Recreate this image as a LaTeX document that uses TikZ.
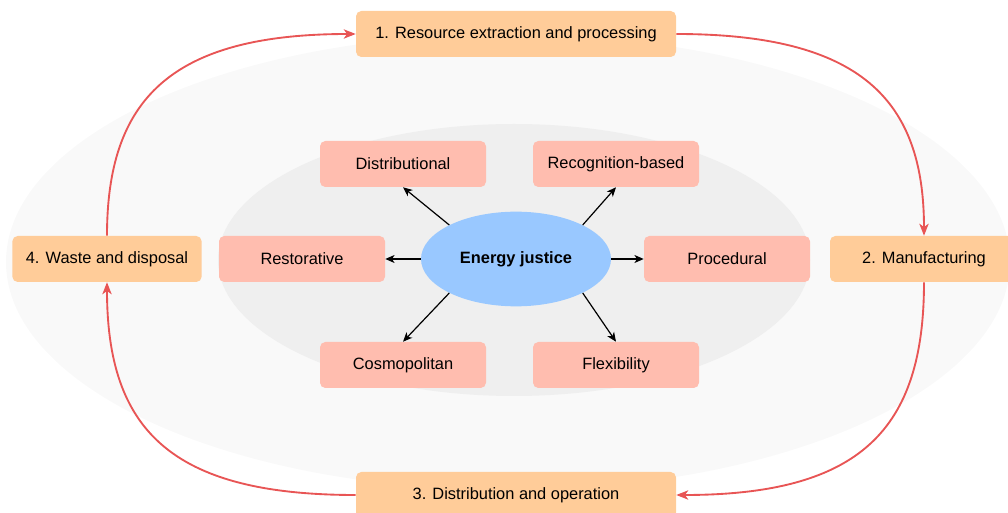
\documentclass[tikz,border=0pt]{standalone}
\usepackage{fontspec}
\setmainfont{Liberation Sans}
\usetikzlibrary{arrows.meta}
\usetikzlibrary{shapes}

\definecolor{outerbg}{HTML}{F9F9F9}
\definecolor{innerbg}{HTML}{EFEFEF}
\definecolor{stagefill}{HTML}{FFCC99}
\definecolor{kindfill}{HTML}{FFBDAF}
\definecolor{corefill}{HTML}{99C8FF}
\definecolor{cyclered}{HTML}{E85555}

\begin{document}
\begin{tikzpicture}[x=0.75pt,y=-0.75pt,
  font=\fontsize{12.3}{14}\selectfont,
  stage/.style={fill=stagefill,rounded corners=4pt,minimum width=240pt,minimum height=34.5pt,inner sep=0pt},
  kind/.style={fill=kindfill,rounded corners=4pt,minimum width=124.5pt,minimum height=34.5pt,inner sep=0pt},
  cyc/.style={draw=cyclered,line width=1.4pt,-{Stealth[length=9pt,width=7pt,inset=2.5pt]}},
  ray/.style={draw=black,line width=0.9pt,-{Stealth[length=7pt,width=6pt,inset=2pt]}}]
\useasboundingbox (0,0) rectangle (1008,513);

% background rings
\fill[outerbg] (508,262) ellipse [x radius=502, y radius=228];
\fill[innerbg] (514,260) ellipse [x radius=296, y radius=136];

% life cycle stages
\node[stage] (res) at (516,34) {1. Resource extraction and processing};
\node[stage,minimum width=141pt] (manu) at (924,259) {2. Manufacturing};
\node[stage] (distr) at (516,495) {3. Distribution and operation};
\node[stage,minimum width=142pt] (waste) at (107,259) {4. Waste and disposal};

% justice dimensions
\node[ellipse,fill=corefill,minimum width=142.5pt,minimum height=71pt,inner sep=0pt] (ej) at (516,259) {\bfseries Energy justice};
\foreach \n/\x/\y/\t in
{
dist/403/164/Distributional, rec/616/164/Recognition-based,
rest/302/259/Restorative, proc/727/259/Procedural,
cosm/403/365/Cosmopolitan, flex/616/365/Flexibility
}
\node[kind] (\n) at (\x,\y) {\t};

\foreach \a/\n/\s in
{153/dist/south, 27/rec/south, 180/rest/east, 0/proc/west, 207/cosm/north, -27/flex/north}
\draw[ray] (ej.\a) -- (\n.\s);

% cycle
\draw[cyc] (res.east) .. controls (861,34) and (924,100) .. (manu.north);
\draw[cyc] (manu.south) .. controls (924,429) and (861,495) .. (distr.east);
\draw[cyc] (distr.west) .. controls (170,495) and (107,429) .. (waste.south);
\draw[cyc] (waste.north) .. controls (107,100) and (170,34) .. (res.west);
\end{tikzpicture}
\end{document}
